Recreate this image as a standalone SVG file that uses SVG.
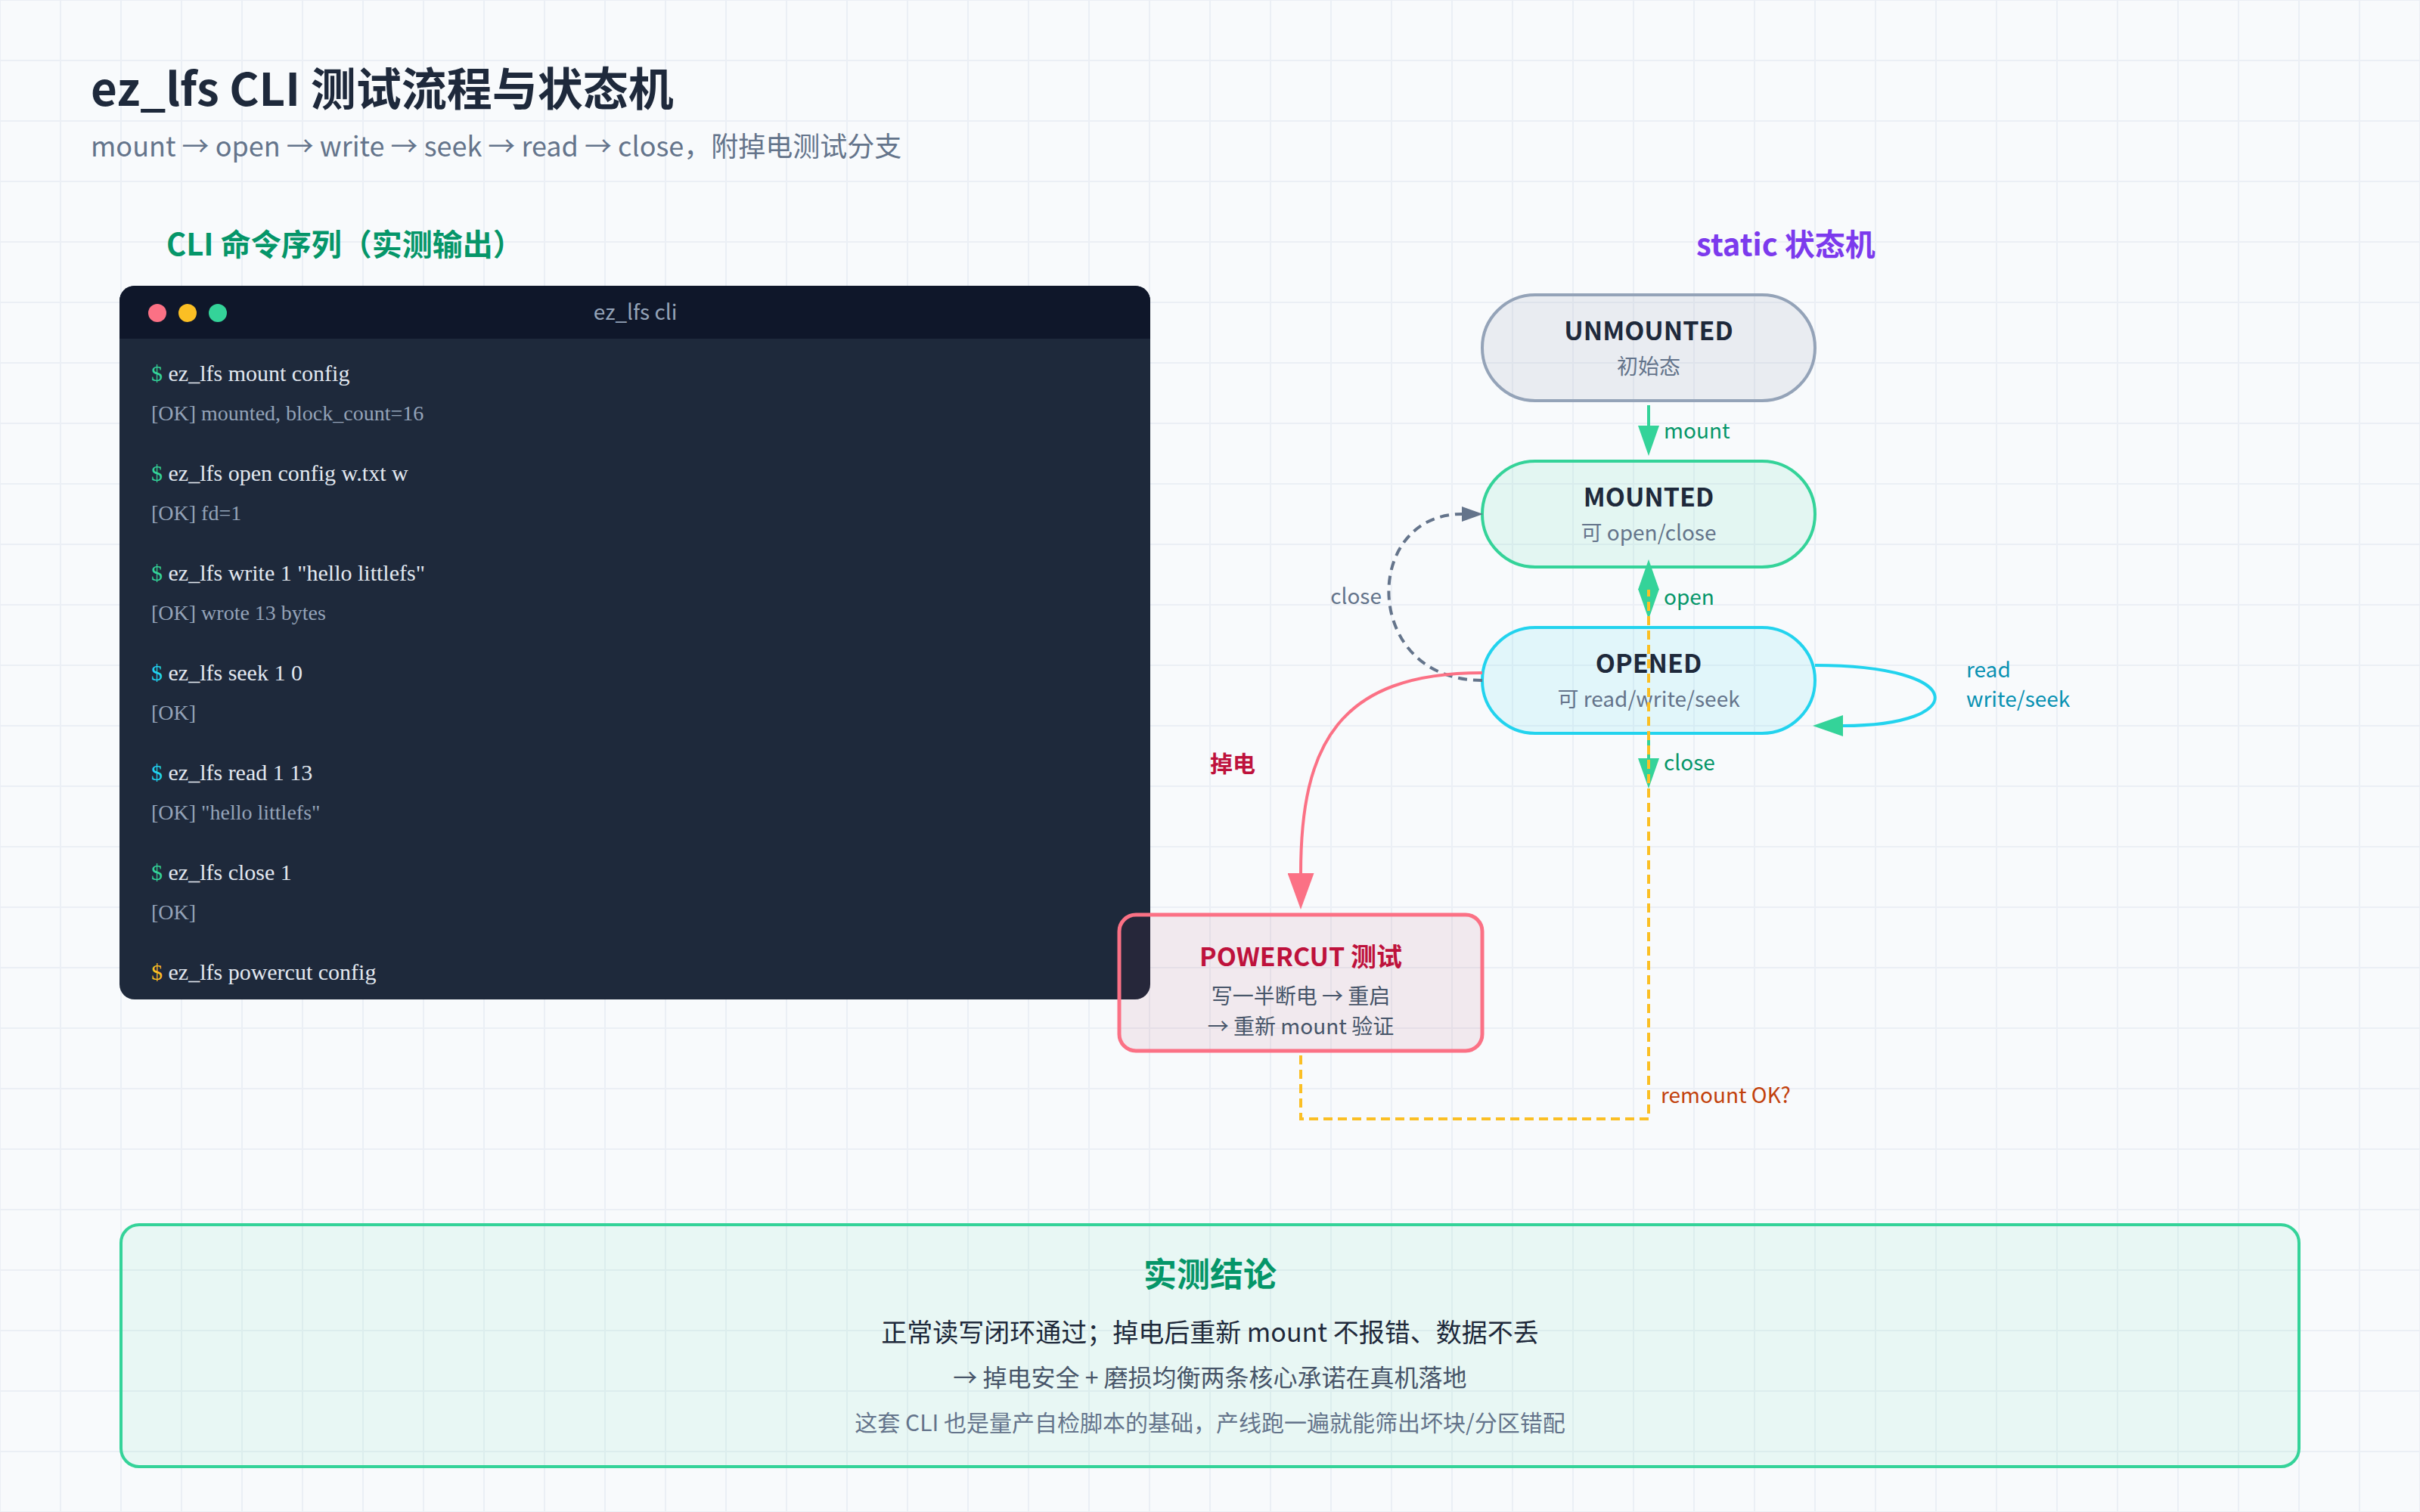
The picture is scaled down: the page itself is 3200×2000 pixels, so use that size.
<svg xmlns="http://www.w3.org/2000/svg" width="3200" height="2000" viewBox="0 0 3200 2000">
<defs>
<pattern id="grid" width="80" height="80" patternUnits="userSpaceOnUse">
<path d="M0 0H80M0 80H80M0 0V80M80 0V80" fill="none" stroke="#e2e8f0" stroke-width="2" opacity="0.6"/>
</pattern>
<marker id="arrGreen" markerUnits="userSpaceOnUse" markerWidth="40" markerHeight="28" refX="0" refY="14" orient="auto" viewBox="0 0 40 28"><path d="M0 0L40 14L0 28Z" fill="#34d399"/></marker>
<marker id="arrGrey" markerUnits="userSpaceOnUse" markerWidth="28" markerHeight="20" refX="0" refY="10" orient="auto" viewBox="0 0 28 20"><path d="M0 0L28 10L0 20Z" fill="#64748b"/></marker>
<marker id="arrRed" markerUnits="userSpaceOnUse" markerWidth="48" markerHeight="35" refX="0" refY="17.5" orient="auto" viewBox="0 0 48 35"><path d="M0 0L48 17.5L0 35Z" fill="#fb7185"/></marker>
<style>
.sans{font-family:"Noto Sans CJK SC","Noto Sans",sans-serif}
.term{font-family:"Liberation Serif",serif}
.h1{font-size:60px;font-weight:700;fill:#1e293b}
.sub{font-size:36px;fill:#64748b}
.sec{font-size:40px;font-weight:700}
.cmd{font-size:30px;fill:#e2e8f0}
.out{font-size:28px;fill:#94a3b8}
.pg{fill:#34d399}.pc{fill:#22d3ee}.py{fill:#fbbf24}
.ntitle{font-size:34px;font-weight:700;fill:#1e293b;text-anchor:middle}
.nsub{font-size:28px;fill:#64748b;text-anchor:middle}
.elab{font-size:28px}
.conn{fill:none;stroke-width:4}
</style>
</defs>
<rect width="3200" height="2000" fill="#f8fafc"/>
<rect width="3200" height="2000" fill="url(#grid)"/>

<g id="header" class="sans">
<text x="120" y="140" class="h1">ez_lfs CLI 测试流程与状态机</text>
<text x="120" y="207" class="sub">mount → open → write → seek → read → close，附掉电测试分支</text>
<text x="220" y="338" class="sec" fill="#059669">CLI 命令序列（实测输出）</text>
<text x="2243" y="338" class="sec" fill="#7c3aed">static 状态机</text>
</g>

<g id="terminal">
<rect x="158" y="378" width="1363" height="944" rx="20" fill="#1e293b"/>
<path d="M158 448V398a20 20 0 0 1 20-20H1501a20 20 0 0 1 20 20V448Z" fill="#0f172a"/>
<circle cx="208" cy="414" r="12" fill="#fb7185"/>
<circle cx="248" cy="414" r="12" fill="#fbbf24"/>
<circle cx="288" cy="414" r="12" fill="#34d399"/>
<text x="840" y="423" class="sans" font-size="28" fill="#94a3b8" text-anchor="middle">ez_lfs cli</text>
<g class="term">
<text x="200" y="504" class="cmd"><tspan class="pg">$</tspan> ez_lfs mount config</text>
<text x="200" y="556" class="out">[OK] mounted, block_count=16</text>
<text x="200" y="636" class="cmd"><tspan class="pg">$</tspan> ez_lfs open config w.txt w</text>
<text x="200" y="688" class="out">[OK] fd=1</text>
<text x="200" y="768" class="cmd"><tspan class="pg">$</tspan> ez_lfs write 1 "hello littlefs"</text>
<text x="200" y="820" class="out">[OK] wrote 13 bytes</text>
<text x="200" y="900" class="cmd"><tspan class="pc">$</tspan> ez_lfs seek 1 0</text>
<text x="200" y="952" class="out">[OK]</text>
<text x="200" y="1032" class="cmd"><tspan class="pc">$</tspan> ez_lfs read 1 13</text>
<text x="200" y="1084" class="out">[OK] "hello littlefs"</text>
<text x="200" y="1164" class="cmd"><tspan class="pg">$</tspan> ez_lfs close 1</text>
<text x="200" y="1216" class="out">[OK]</text>
<text x="200" y="1296" class="cmd"><tspan class="py">$</tspan> ez_lfs powercut config</text>
</g>
</g>

<g id="node-unmounted" class="sans">
<rect x="1960" y="390" width="440" height="140" rx="70" fill="rgba(148,163,184,0.15)" stroke="#94a3b8" stroke-width="4"/>
<text x="2180" y="450" class="ntitle">UNMOUNTED</text>
<text x="2180" y="495" class="nsub">初始态</text>
</g>
<g id="node-mounted" class="sans">
<rect x="1960" y="610" width="440" height="140" rx="70" fill="rgba(52,211,153,0.1)" stroke="#34d399" stroke-width="4"/>
<text x="2180" y="670" class="ntitle">MOUNTED</text>
<text x="2180" y="715" class="nsub">可 open/close</text>
</g>
<g id="node-opened" class="sans">
<rect x="1960" y="830" width="440" height="140" rx="70" fill="rgba(34,211,238,0.1)" stroke="#22d3ee" stroke-width="4"/>
<text x="2180" y="890" class="ntitle">OPENED</text>
<text x="2180" y="935" class="nsub">可 read/write/seek</text>
</g>
<g id="node-powercut" class="sans">
<rect x="1480" y="1210" width="480" height="180" rx="22" fill="rgba(159,18,57,0.07)" stroke="#fb7185" stroke-width="5"/>
<text x="1720" y="1278" class="ntitle" style="fill:#be123c">POWERCUT 测试</text>
<text x="1720" y="1328" class="nsub" style="fill:#475569">写一半断电 → 重启</text>
<text x="1720" y="1368" class="nsub" style="fill:#475569">→ 重新 mount 验证</text>
</g>

<g id="connectors" class="sans">
<path class="conn" d="M2180 536L2180 563" stroke="#34d399" marker-end="url(#arrGreen)"/>
<text x="2200" y="580" class="elab" fill="#059669">mount</text>
<path class="conn" d="M2180 756L2180 779" stroke="#34d399" marker-end="url(#arrGreen)"/>
<text x="2200" y="800" class="elab" fill="#059669">open</text>
<path class="conn" d="M2180 976L2180 1003" stroke="#34d399" marker-end="url(#arrGreen)"/>
<text x="2200" y="1019" class="elab" fill="#059669">close</text>
<path class="conn" d="M1960 900C1800 900 1800 680 1933 680" stroke="#64748b" stroke-width="3.5" stroke-dasharray="12 8" marker-end="url(#arrGrey)"/>
<text x="1827" y="799" class="elab" fill="#64748b" text-anchor="end">close</text>
<path class="conn" d="M2400 880C2605 880 2605 960 2437 960" stroke="#22d3ee" marker-end="url(#arrGreen)"/>
<text x="2600" y="896" class="elab" fill="#0891b2">read</text>
<text x="2600" y="935" class="elab" fill="#0891b2">write/seek</text>
<path class="conn" d="M1960 890C1770 890 1720 985 1720 1155" stroke="#fb7185" stroke-width="4.5" marker-end="url(#arrRed)"/>
<text x="1600" y="1021" font-size="30" font-weight="700" fill="#be123c">掉电</text>
<path class="conn" d="M1720 1396L1720 1480L2180 1480L2180 780" stroke="#fbbf24" stroke-width="4" stroke-dasharray="12 7" marker-end="url(#arrGreen)"/>
<text x="2196" y="1459" class="elab" fill="#c2410c">remount OK?</text>
</g>

<g id="conclusion" class="sans">
<rect x="160" y="1620" width="2880" height="320" rx="24" fill="rgba(52,211,153,0.08)" stroke="#34d399" stroke-width="4"/>
<text x="1600" y="1702" font-size="44" font-weight="700" fill="#059669" text-anchor="middle">实测结论</text>
<text x="1600" y="1775" font-size="34" fill="#1e293b" text-anchor="middle">正常读写闭环通过；掉电后重新 mount 不报错、数据不丢</text>
<text x="1600" y="1834" font-size="32" fill="#475569" text-anchor="middle">→ 掉电安全 + 磨损均衡两条核心承诺在真机落地</text>
<text x="1600" y="1893" font-size="30" fill="#64748b" text-anchor="middle">这套 CLI 也是量产自检脚本的基础，产线跑一遍就能筛出坏块/分区错配</text>
</g>
</svg>
